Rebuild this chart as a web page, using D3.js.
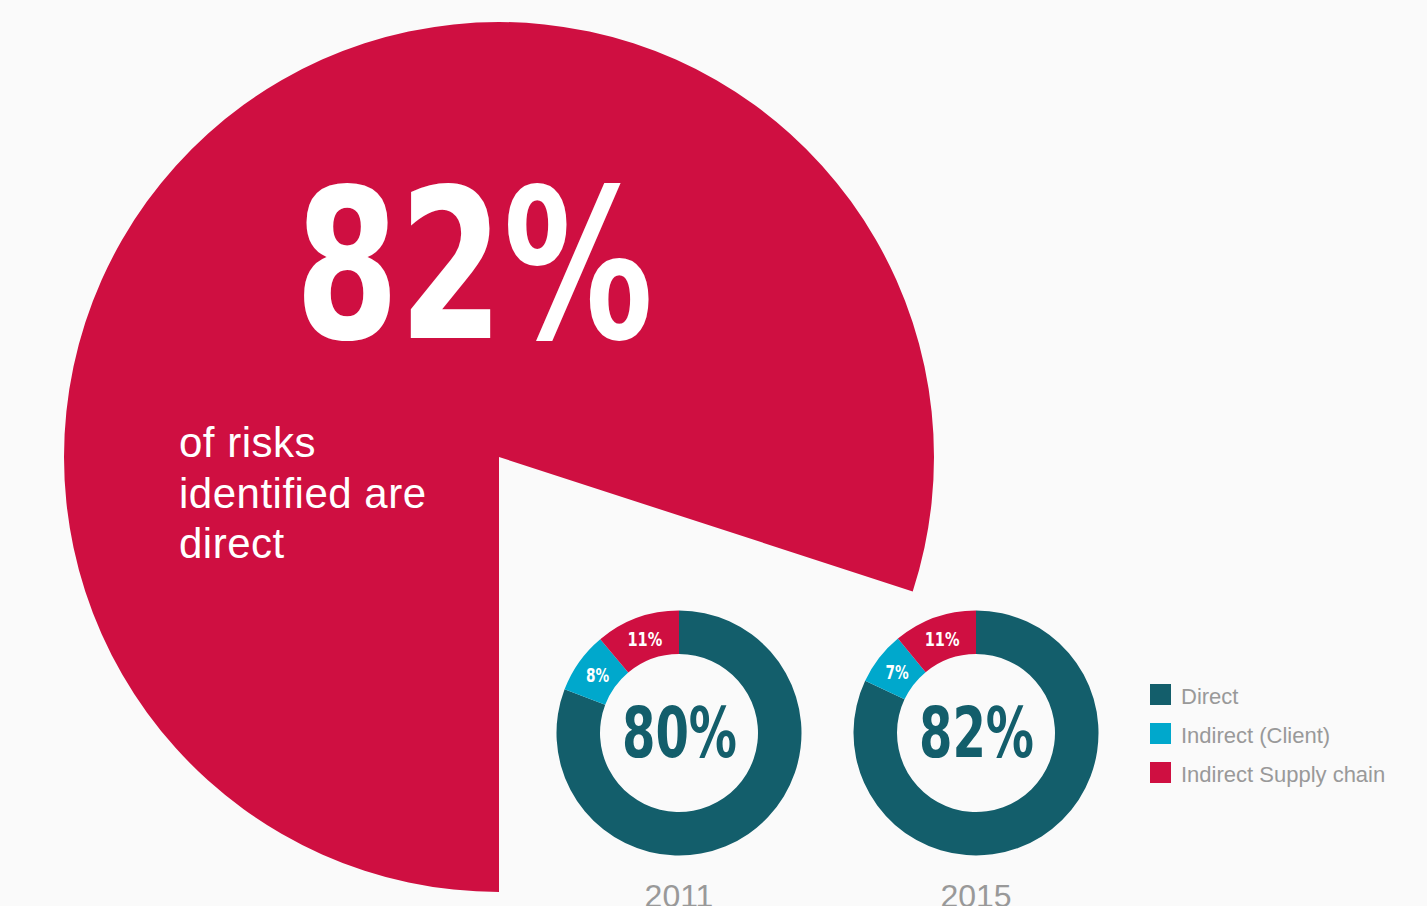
<!DOCTYPE html>
<html>
<head>
<meta charset="utf-8">
<script src="https://cdn.jsdelivr.net/npm/d3@7"></script>
<style>
  body { margin: 0; background: #fafafa; }
  svg { display: block; }
  .cond { font-family: "Liberation Sans Narrow", "DejaVu Sans Condensed", sans-serif; font-weight: bold; }
  .plain { font-family: "Liberation Sans", Arial, sans-serif; }
</style>
</head>
<body>
<div id="chart-area"></div>
<script>

var width = 1427, height = 906;

// hero wedge (share of the circle as drawn) and its label
var heroShares = [80, 20];
var heroLabel = "82%";
var heroText = ["of risks", "identified are", "direct"];

// donuts
var categories = ["Direct", "Indirect (Client)", "Indirect Supply chain"];
var years = ["2011", "2015"];
var values2011 = [80, 8, 11];
var values2015 = [82, 7, 11];

var colors = d3.scaleOrdinal()
    .domain(categories)
    .range(["#135e6b", "#00a8cc", "#cf0f41"]);

// squeeze bold text to look condensed
function condensed(sel, size, perChar) {
    sel.attr("font-size", size + "px")
        .attr("lengthAdjust", "spacingAndGlyphs")
        .attr("textLength", function(d){
            var t = d3.select(this).text();
            return t.length * size * perChar;
        });
}

var svg = d3.select("#chart-area")
    .append("svg")
        .attr("width", width)
        .attr("height", height);

svg.append("rect")
    .attr("width", width)
    .attr("height", height)
    .attr("fill", "#fafafa");

// Big pie
var heroPie = d3.pie()
    .sort(null)
    .startAngle(Math.PI)
    .endAngle(Math.PI * 3);

var heroArc = d3.arc()
    .innerRadius(0)
    .outerRadius(435);

var hero = svg.append("g")
    .attr("transform", "translate(499,457)");

hero.selectAll("path")
    .data(heroPie(heroShares).slice(0, 1))
    .enter()
    .append("path")
        .attr("d", heroArc)
        .attr("fill", "#cf0f41");

svg.append("text")
    .attr("class", "cond")
    .attr("x", 474)
    .attr("y", 338)
    .attr("text-anchor", "middle")
    .attr("fill", "#fff")
    .text(heroLabel)
    .call(condensed, 208, 0.574);

svg.append("g")
    .selectAll("text")
    .data(heroText)
    .enter()
    .append("text")
        .attr("class", "plain")
        .attr("x", 179)
        .attr("y", function(d, i){ return 457 + i * 50.5; })
        .attr("font-size", "42px")
        .attr("letter-spacing", "0.5px")
        .attr("fill", "#fff")
        .text(function(d){ return d; });

// Donuts
var pie = d3.pie().sort(null);
var arc = d3.arc().innerRadius(79).outerRadius(122.5);
var labelArc = d3.arc().innerRadius(100).outerRadius(100);

var donutData = [
    { year: years[0], values: values2011, cx: 679 },
    { year: years[1], values: values2015, cx: 976 }
];

donutData.forEach(function(dd) {
    var g = svg.append("g")
        .attr("transform", "translate(" + dd.cx + ",733)");

    var slices = pie(dd.values);

    g.selectAll("path")
        .data(slices)
        .enter()
        .append("path")
            .attr("d", arc)
            .attr("fill", function(d, i){ return colors(categories[i]); });

    g.selectAll("text.slice")
        .data(slices.slice(1))
        .enter()
        .append("text")
            .attr("class", "slice cond")
            .attr("transform", function(d){ return "translate(" + labelArc.centroid(d) + ")"; })
            .attr("dy", "0.36em")
            .attr("text-anchor", "middle")
            .attr("fill", "#fff")
            .text(function(d){ return d.data + "%"; })
            .call(condensed, 20, 0.58);

    g.append("text")
        .attr("class", "cond")
        .attr("x", 0.5)
        .attr("y", 24)
        .attr("text-anchor", "middle")
        .attr("fill", "#135e6b")
        .text(dd.values[0] + "%")
        .call(condensed, 70, 0.548);

    g.append("text")
        .attr("class", "plain")
        .attr("y", 174)
        .attr("text-anchor", "middle")
        .attr("font-size", "32px")
        .attr("fill", "#999")
        .text(dd.year);
});

// Legend
var legend = svg.append("g")
    .attr("transform", "translate(1150,684)");

var items = legend.selectAll("g")
    .data(categories)
    .enter()
    .append("g")
        .attr("transform", function(d, i){ return "translate(0," + (i * 39) + ")"; });

items.append("rect")
    .attr("width", 21)
    .attr("height", 21)
    .attr("fill", function(d){ return colors(d); });

items.append("text")
    .attr("class", "plain")
    .attr("x", 31)
    .attr("y", 20)
    .attr("font-size", "22px")
    .attr("fill", "#999")
    .text(function(d){ return d; });

</script>
</body>
</html>
